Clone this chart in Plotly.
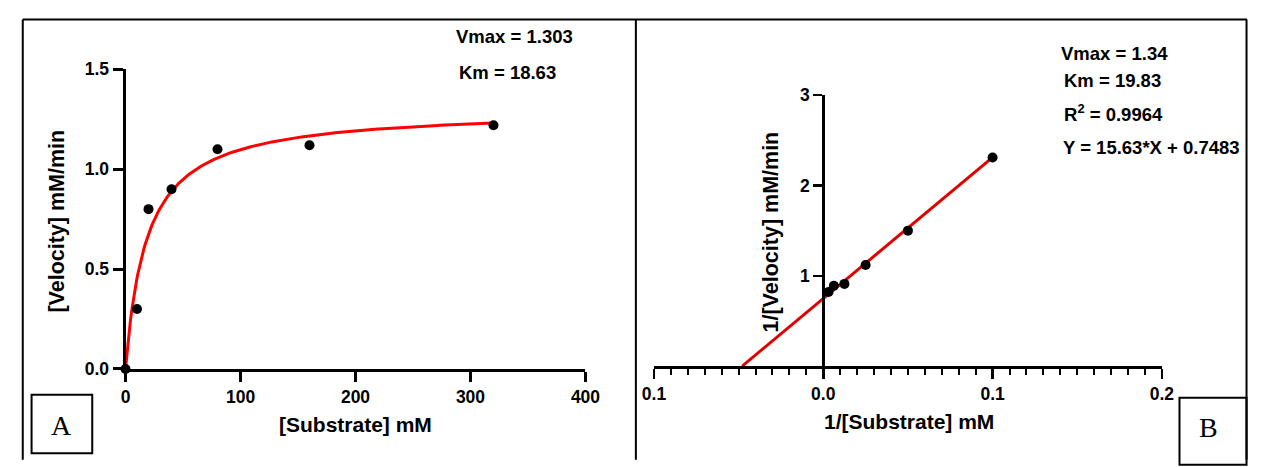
import numpy as np
import plotly.graph_objects as go

W, H = 1263, 467

# ---------------- Data ----------------
# Panel A: Michaelis-Menten
substrate_a = [0, 10, 20, 40, 80, 160, 320]
velocity_a = [0.0, 0.30, 0.80, 0.90, 1.10, 1.12, 1.22]
VMAX_A = 1.303
KM_A = 18.63

# Panel B: Lineweaver-Burk
inv_substrate_b = [0.003125, 0.00625, 0.0125, 0.025, 0.05, 0.1]
inv_velocity_b = [0.82, 0.89, 0.91, 1.12, 1.50, 2.31]
SLOPE_B = 15.63
INTERCEPT_B = 0.7483

a_xticks = [0, 100, 200, 300, 400]
a_yticks = [0.0, 0.5, 1.0, 1.5]
b_xticks = [-0.1, 0.0, 0.1, 0.2]
b_xticktext = ["0.1", "0.0", "0.1", "0.2"]
b_yticks = [1, 2, 3]

# ---------------- helpers ----------------
def px(x):
    return x / W

def py(y):
    return 1 - y / H

FONT = "Liberation Sans, Arial, sans-serif"
SERIF = "Liberation Serif, Times New Roman, serif"

fig = go.Figure()

# A fit curve
s_fit = np.linspace(0, 320, 300)
v_fit = VMAX_A * s_fit / (KM_A + s_fit)
fig.add_trace(go.Scatter(x=s_fit, y=v_fit, mode="lines",
                         line=dict(color="#ff0000", width=3),
                         xaxis="x", yaxis="y", cliponaxis=False, hoverinfo="skip"))
fig.add_trace(go.Scatter(x=substrate_a, y=velocity_a, mode="markers",
                         marker=dict(color="black", size=10),
                         xaxis="x", yaxis="y", cliponaxis=False))

# B fit line
x0 = -INTERCEPT_B / SLOPE_B
xb = np.array([x0, max(inv_substrate_b)])
fig.add_trace(go.Scatter(x=xb, y=SLOPE_B * xb + INTERCEPT_B, mode="lines",
                         line=dict(color="#e00000", width=3),
                         xaxis="x2", yaxis="y2", cliponaxis=False, hoverinfo="skip"))
fig.add_trace(go.Scatter(x=inv_substrate_b, y=inv_velocity_b, mode="markers",
                         marker=dict(color="black", size=10),
                         xaxis="x2", yaxis="y2", cliponaxis=False))

tickfont = dict(family=FONT, size=17.5, color="black", weight="bold")

fig.update_layout(
    width=W, height=H, autosize=False,
    margin=dict(l=0, r=0, t=0, b=0),
    paper_bgcolor="white", plot_bgcolor="white",
    showlegend=False,
    xaxis=dict(domain=[px(116), px(586)], range=[0, 400], anchor="y",
               tickvals=a_xticks, ticks="outside", ticklen=10, tickwidth=3,
               tickcolor="black", showline=True, linewidth=3, linecolor="black",
               showgrid=False, zeroline=False, tickfont=tickfont),
    yaxis=dict(domain=[py(375), py(62)], range=[0, 1.5], anchor="x",
               tickvals=a_yticks, tickformat=".1f", ticks="outside", ticklen=10,
               tickwidth=3, tickcolor="black", showline=True, linewidth=3,
               linecolor="black", showgrid=False, zeroline=False, tickfont=tickfont),
    xaxis2=dict(domain=[px(656), px(1175)], range=[-0.1, 0.2], anchor="y2",
                tickmode="array", tickvals=b_xticks, ticktext=b_xticktext,
                ticks="outside", ticklen=10, tickwidth=2.5, tickcolor="black",
                minor=dict(dtick=0.01, tick0=0, ticks="outside", ticklen=6,
                           tickwidth=2, tickcolor="black", showgrid=False),
                showline=True, linewidth=2.5, linecolor="black",
                showgrid=False, zeroline=False, tickfont=tickfont),
    yaxis2=dict(domain=[py(372), py(89)], range=[0, 3], anchor="free",
                position=px(829), tickvals=b_yticks, ticks="outside", ticklen=9,
                tickwidth=2.5, tickcolor="black", showline=True, linewidth=2.5,
                linecolor="black", showgrid=False, zeroline=False, tickfont=tickfont),
)

ann = []
def add_text(text, x, y, size=18.5, xanchor="left", angle=0, family=FONT, bold=True):
    ann.append(dict(text=text, x=px(x), y=py(y), xref="paper", yref="paper",
                    xanchor=xanchor, yanchor="middle", showarrow=False, textangle=angle,
                    font=dict(family=family, size=size, color="black",
                              weight="bold" if bold else "normal")))

# Panel A texts
add_text("Vmax = 1.303", 452, 27.5)
add_text("Km = 18.63", 455, 65.5)
add_text("[Velocity] mM/min", 45, 221, size=21.5, xanchor="center", angle=-90)
add_text("[Substrate] mM", 351, 433, size=21, xanchor="center")
add_text("A", 51, 434, size=28, xanchor="center", family=SERIF, bold=False)

# Panel B texts
add_text("Vmax = 1.34", 1070, 45)
add_text("Km = 19.83", 1073, 74)
add_text("R<sup>2</sup> = 0.9964", 1073, 108)
add_text("Y = 15.63*X + 0.7483", 1072, 144)
add_text("1/[Velocity] mM/min", 776, 232, size=21.5, xanchor="center", angle=-90)
add_text("1/[Substrate] mM", 917, 430, size=21, xanchor="center")
add_text("B", 1223, 436, size=28, xanchor="center", family=SERIF, bold=False)

fig.update_layout(annotations=ann)

shapes = []
def line(x0, y0, x1, y1, w=2):
    shapes.append(dict(type="line", xref="paper", yref="paper",
                       x0=px(x0), y0=py(y0), x1=px(x1), y1=py(y1),
                       line=dict(color="black", width=w)))

# outer frame & divider
line(11, 10, 1262, 10)
line(11, 10, 11, 470)
line(637.5, 10, 637.5, 470)
line(1261.5, 10, 1261.5, 470)
# label boxes
shapes.append(dict(type="rect", xref="paper", yref="paper",
                   x0=px(20), y0=py(463), x1=px(82), y1=py(402),
                   line=dict(color="black", width=2)))
shapes.append(dict(type="rect", xref="paper", yref="paper",
                   x0=px(1193), y0=py(475), x1=px(1261.5), y1=py(405),
                   line=dict(color="black", width=2)))
fig.update_layout(shapes=shapes)

fig.write_html("out.html",
               config={"displayModeBar": False, "staticPlot": True},
               post_script="document.body.style.margin='0';"
                           "document.body.style.padding='0';"
                           "document.body.style.overflow='hidden';")
